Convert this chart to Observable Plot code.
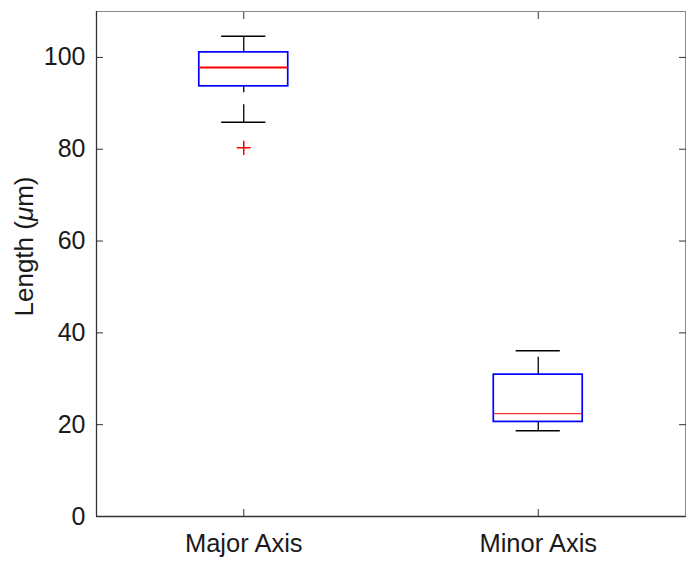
<!DOCTYPE html>
<html><head><meta charset="utf-8">
<script src="https://cdn.jsdelivr.net/npm/d3@7"></script>
<script src="https://cdn.jsdelivr.net/npm/@observablehq/plot@0.6"></script>
<style>body{margin:0;background:#fff} svg{display:block}</style>
</head><body><div id="chart"></div>
<script>
const categories = ["Major Axis", "Minor Axis"];
const whiskerLow = [85.9, 18.7];
const q1 = [93.7, 20.6];
const median = [97.8, 22.4];
const q3 = [101.1, 30.9];
const whiskerHigh = [104.6, 36.1];
const outlierCategory = ["Major Axis"];
const outlierValue = [80.3];
const yTicks = [0, 20, 40, 60, 80, 100];

const boxes = categories.map((c, i) => ({cat: c, pos: i + 1, lo: whiskerLow[i], q1: q1[i], med: median[i], q3: q3[i], hi: whiskerHigh[i]}));
const outliers = outlierValue.map((v, i) => ({pos: categories.indexOf(outlierCategory[i]) + 1, value: v}));
const halfBox = 0.151, halfCap = 0.075;
const font = "'Liberation Sans', Arial, Helvetica, sans-serif";

const chart = Plot.plot({
  width: 696,
  height: 566,
  marginLeft: 96,
  marginRight: 11,
  marginTop: 11,
  marginBottom: 50,
  style: {fontFamily: font, color: "#1a1a1a", background: "#fff"},
  x: {type: "linear", domain: [0.5, 2.5]},
  y: {domain: [0, 110]},
  marks: [
    Plot.frame({stroke: "#8a8a8a", strokeWidth: 1}),
    Plot.ruleX([0.5], {stroke: "#333", strokeWidth: 1.3}),
    Plot.ruleY([0], {stroke: "#333", strokeWidth: 1.3}),
    Plot.axisY({anchor: "left", ticks: yTicks, tickSize: -7, tickPadding: 18, fontSize: 25, label: null, stroke: "#333"}),
    Plot.axisY({anchor: "right", ticks: yTicks, tickSize: -7, tickFormat: () => "", label: null, stroke: "#333"}),
    Plot.axisX({anchor: "bottom", ticks: [1, 2], tickSize: -7, tickPadding: 24, fontSize: 25.5, tickFormat: d => categories[d - 1], label: null, stroke: "#333"}),
    Plot.axisX({anchor: "top", ticks: [1, 2], tickSize: -7, tickFormat: () => "", label: null, stroke: "#333"}),
    Plot.link(boxes, {x1: "pos", x2: "pos", y1: "lo", y2: "q1", stroke: "#000", strokeWidth: 1.3, strokeDasharray: "18,12"}),
    Plot.link(boxes, {x1: "pos", x2: "pos", y1: "q3", y2: "hi", stroke: "#000", strokeWidth: 1.3, strokeDasharray: "18,12"}),
    Plot.ruleY(boxes, {y: "hi", x1: d => d.pos - halfCap, x2: d => d.pos + halfCap, stroke: "#000", strokeWidth: 1.5}),
    Plot.ruleY(boxes, {y: "lo", x1: d => d.pos - halfCap, x2: d => d.pos + halfCap, stroke: "#000", strokeWidth: 1.5}),
    Plot.rect(boxes, {x1: d => d.pos - halfBox, x2: d => d.pos + halfBox, y1: "q1", y2: "q3", fill: "none", stroke: "#0000ff", strokeWidth: 1.7}),
    Plot.ruleY(boxes, {y: "med", x1: d => d.pos - halfBox, x2: d => d.pos + halfBox, stroke: "#ff0000", strokeWidth: d => d.pos === 1 ? 2 : 1}),
    Plot.dot(outliers, {x: "pos", y: "value", symbol: "plus", stroke: "#ff0000", r: 4.6, strokeWidth: 1.5})
  ]
});

const svg = d3.select(chart);
const ys = chart.scale("y");
const yMid = (ys.range[0] + ys.range[1]) / 2 - 17;
const lab = svg.append("text")
  .attr("transform", `translate(33,${yMid}) rotate(-90)`)
  .attr("text-anchor", "middle")
  .attr("font-family", font)
  .attr("font-size", 26)
  .attr("fill", "#1a1a1a");
lab.append("tspan").text("Length (");
lab.append("tspan").attr("font-style", "italic").text("μ");
lab.append("tspan").text("m)");

document.getElementById("chart").append(chart);
</script>
</body></html>
